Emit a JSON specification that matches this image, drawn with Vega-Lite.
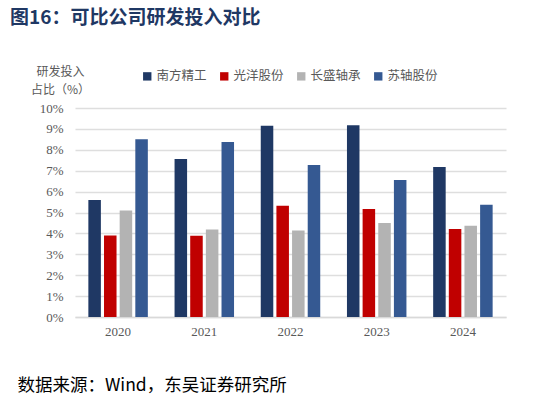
{
  "$schema": "https://vega.github.io/schema/vega-lite/v6.json",
  "width": 431,
  "height": 209,
  "autosize": {"type": "none"},
  "padding": {"left": 75, "top": 108, "right": 32, "bottom": 84},
  "background": "white",
  "title": {
    "text": "图16：可比公司研发投入对比",
    "anchor": "start",
    "frame": "group",
    "dx": -65,
    "offset": 37,
    "font": "Noto Sans CJK SC",
    "fontSize": 19,
    "fontWeight": "bold",
    "color": "#1f3864"
  },
  "data": {
    "values": [
      {"year": "2020", "company": "南方精工", "v": 5.6},
      {"year": "2020", "company": "光洋股份", "v": 3.9},
      {"year": "2020", "company": "长盛轴承", "v": 5.1},
      {"year": "2020", "company": "苏轴股份", "v": 8.5},
      {"year": "2021", "company": "南方精工", "v": 7.56},
      {"year": "2021", "company": "光洋股份", "v": 3.89},
      {"year": "2021", "company": "长盛轴承", "v": 4.19},
      {"year": "2021", "company": "苏轴股份", "v": 8.37},
      {"year": "2022", "company": "南方精工", "v": 9.15},
      {"year": "2022", "company": "光洋股份", "v": 5.32},
      {"year": "2022", "company": "长盛轴承", "v": 4.14},
      {"year": "2022", "company": "苏轴股份", "v": 7.27},
      {"year": "2023", "company": "南方精工", "v": 9.17},
      {"year": "2023", "company": "光洋股份", "v": 5.17},
      {"year": "2023", "company": "长盛轴承", "v": 4.5},
      {"year": "2023", "company": "苏轴股份", "v": 6.55},
      {"year": "2024", "company": "南方精工", "v": 7.18},
      {"year": "2024", "company": "光洋股份", "v": 4.21},
      {"year": "2024", "company": "长盛轴承", "v": 4.37},
      {"year": "2024", "company": "苏轴股份", "v": 5.37}
    ]
  },
  "mark": {"type": "bar"},
  "encoding": {
    "x": {
      "field": "year",
      "type": "nominal",
      "scale": {"paddingInner": 0.31, "paddingOuter": 0.155},
      "axis": {
        "title": "数据来源：Wind，东吴证券研究所",
        "titleFont": "Noto Sans CJK SC",
        "titleFontSize": 17.5,
        "titleFontWeight": "normal",
        "titleColor": "#000000",
        "titleAnchor": "start",
        "titleAlign": "left",
        "titleBaseline": "alphabetic",
        "titleX": -58,
        "titleY": 73,
        "labelAngle": 0,
        "labelFont": "Liberation Serif",
        "labelFontSize": 13,
        "labelColor": "#595959",
        "labelPadding": 8,
        "ticks": false,
        "domainColor": "#d9d9d9",
        "domainWidth": 1.5
      }
    },
    "xOffset": {
      "field": "company",
      "type": "nominal",
      "sort": ["南方精工", "光洋股份", "长盛轴承", "苏轴股份"],
      "scale": {"paddingInner": 0.2}
    },
    "y": {
      "field": "v",
      "type": "quantitative",
      "scale": {"domain": [0, 10]},
      "axis": {
        "values": [0, 1, 2, 3, 4, 5, 6, 7, 8, 9, 10],
        "labelExpr": "datum.value + '%'",
        "title": ["研发投入", "占比（%）"],
        "titleFont": "Noto Sans CJK SC",
        "titleFontSize": 12,
        "titleFontWeight": "normal",
        "titleColor": "#595959",
        "titleAngle": 0,
        "titleAlign": "center",
        "titleBaseline": "top",
        "titleX": -15,
        "titleY": -42,
        "titleLineHeight": 18,
        "labelFont": "Liberation Serif",
        "labelFontSize": 13,
        "labelColor": "#595959",
        "labelPadding": 12,
        "ticks": false,
        "domain": false,
        "gridColor": "#dedede",
        "gridWidth": 1.5
      }
    },
    "color": {
      "field": "company",
      "type": "nominal",
      "sort": ["南方精工", "光洋股份", "长盛轴承", "苏轴股份"],
      "scale": {
        "domain": ["南方精工", "光洋股份", "长盛轴承", "苏轴股份"],
        "range": ["#1f3864", "#c00000", "#b3b3b3", "#355992"]
      },
      "legend": {
        "title": null,
        "orient": "none",
        "legendX": 66,
        "legendY": -38,
        "direction": "horizontal",
        "symbolType": "square",
        "symbolSize": 70,
        "symbolStrokeWidth": 0,
        "labelFont": "Noto Sans CJK SC",
        "labelFontSize": 12.5,
        "labelColor": "#595959",
        "labelOffset": 3,
        "columnPadding": 11
      }
    }
  },
  "config": {"view": {"stroke": null}}
}
